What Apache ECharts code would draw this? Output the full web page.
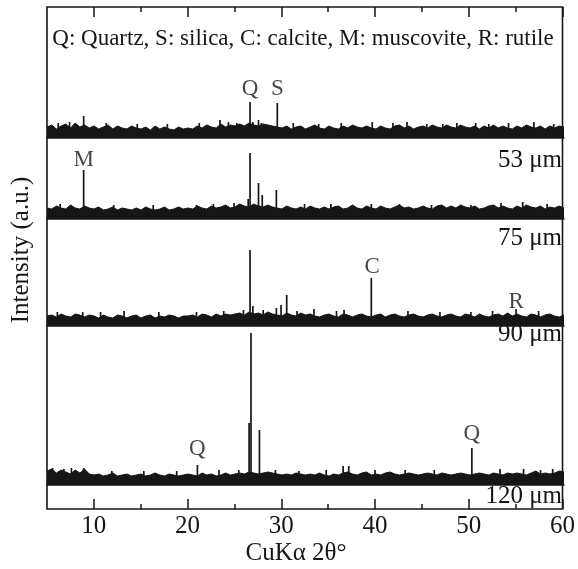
<!DOCTYPE html>
<html>
<head>
<meta charset="utf-8">
<script src="https://cdn.jsdelivr.net/npm/echarts@6/dist/echarts.min.js"></script>
<style>
    html, body { margin: 0; padding: 0; background: #fff; }
    #chart { width: 578px; height: 569px; }
</style>
</head>
<body>
<div id="chart"></div>
<script>
// XRD patterns, CuKa 2theta from 5 to 60 deg, intensity in a.u.
const angles = []
for (let a = 5; a <= 60; a += 0.5) angles.push(a)

const sampleNames = ['53 μm', '75 μm', '90 μm', '120 μm']
const majorTicks = [10, 20, 30, 40, 50, 60]
const minorTicks = [15, 25, 35, 45, 55]

// background noise, one value per 0.5 deg
const bg53 = [
    11, 13, 9, 12, 14, 10, 15, 11, 13, 10,
    12, 9, 11, 13, 9, 12, 10, 9, 12, 10,
    9, 11, 8, 12, 9, 11, 9, 8, 11, 9,
    10, 9, 12, 10, 13, 11, 10, 14, 11, 13,
    12, 14, 12, 15, 13, 12, 14, 13, 12, 11,
    10, 12, 9, 11, 12, 9, 11, 13, 10, 9,
    12, 10, 9, 12, 10, 13, 11, 10, 12, 10,
    9, 12, 10, 9, 12, 13, 10, 12, 9, 11,
    12, 10, 13, 11, 10, 13, 11, 10, 13, 11,
    10, 12, 9, 12, 10, 13, 10, 12, 10, 9,
    12, 10, 13, 11, 10, 12, 9, 12, 10, 12,
    11
]
const bg75 = [
    11, 10, 13, 11, 10, 14, 11, 10, 13, 11,
    10, 12, 9, 10, 12, 9, 11, 10, 9, 11,
    9, 12, 10, 9, 10, 12, 9, 10, 12, 10,
    11, 10, 13, 11, 10, 13, 11, 12, 14, 11,
    12, 15, 13, 12, 15, 13, 12, 14, 12, 11,
    10, 13, 11, 10, 12, 10, 13, 11, 10, 12,
    10, 12, 13, 10, 11, 14, 11, 10, 13, 11,
    10, 13, 11, 10, 12, 14, 11, 12, 10, 11,
    13, 11, 10, 13, 14, 11, 13, 11, 14, 12,
    11, 13, 10, 11, 13, 14, 11, 13, 11, 10,
    13, 11, 14, 12, 11, 13, 10, 12, 11, 13,
    11
]
const bg90 = [
    10, 11, 9, 12, 10, 9, 12, 11, 9, 11,
    10, 8, 11, 9, 8, 11, 10, 8, 10, 11,
    8, 10, 11, 8, 10, 9, 11, 10, 8, 10,
    10, 11, 9, 12, 11, 9, 12, 10, 12, 11,
    12, 13, 11, 14, 12, 13, 11, 14, 12, 11,
    10, 13, 11, 10, 13, 11, 12, 10, 9, 11,
    12, 10, 9, 12, 11, 9, 11, 12, 10, 9,
    11, 12, 9, 11, 12, 10, 9, 11, 12, 10,
    9, 11, 12, 10, 9, 11, 12, 10, 9, 12,
    11, 9, 12, 10, 9, 11, 12, 10, 13, 10,
    12, 10, 9, 12, 11, 9, 11, 12, 10, 9,
    11
]
const bg120 = [
    14, 16, 12, 15, 13, 11, 15, 12, 16, 11,
    10, 11, 9, 10, 12, 9, 10, 11, 9, 10,
    11, 9, 10, 12, 10, 9, 11, 10, 9, 10,
    11, 10, 9, 12, 10, 11, 9, 10, 12, 10,
    11, 12, 11, 13, 12, 11, 12, 13, 12, 11,
    10, 11, 10, 12, 11, 10, 11, 10, 12, 10,
    9, 11, 10, 12, 13, 11, 10, 12, 13, 10,
    11, 10, 12, 13, 11, 10, 11, 12, 11, 10,
    11, 12, 11, 10, 12, 11, 10, 11, 12, 11,
    10, 11, 12, 11, 10, 12, 11, 10, 12, 11,
    12, 11, 10, 12, 14, 11, 12, 11, 12, 14,
    13
]

// sharp reflections and noise spikes [2theta, intensity]
const peaks53 = [
    [6.2, 15], [7.4, 16], [8.9, 22], [11.3, 15], [14.6, 14], [17.8, 14], [21.2, 15],
    [23.4, 18], [24.3, 16], [25.2, 15], [26.6, 36], [26.9, 16], [27.5, 18], [27.8, 15],
    [29.5, 35], [31.2, 15], [33.9, 14], [36.3, 15], [39.6, 16], [41.8, 15], [43.3, 16],
    [45.4, 14], [47.1, 14], [48.6, 15], [50.6, 15], [52.0, 14], [54.1, 15], [56.8, 16], [58.9, 14]
]
const peaks75 = [
    [6.4, 15], [8.9, 49], [12.1, 14], [16.3, 14], [20.9, 14], [22.7, 15], [24.9, 16],
    [26.4, 20], [26.6, 66], [27.5, 36], [27.9, 24], [29.4, 29], [32.4, 15], [35.2, 15],
    [39.5, 15], [42.5, 15], [45.9, 14], [50.1, 14], [53.3, 16], [55.6, 17], [58.2, 15]
]
const peaks90 = [
    [6.1, 14], [8.8, 14], [10.7, 14], [13.2, 15], [16.9, 14], [20.9, 14], [23.8, 15],
    [25.9, 16], [26.6, 76], [26.9, 20], [28.0, 16], [29.4, 18], [29.9, 21], [30.5, 31],
    [31.6, 15], [33.4, 17], [35.8, 15], [36.6, 16], [39.5, 48], [43.4, 15], [46.8, 14],
    [50.1, 14], [52.4, 15], [54.9, 17], [57.3, 15]
]
const peaks120 = [
    [5.6, 17], [6.8, 16], [7.6, 17], [8.9, 17], [11.9, 14], [15.3, 14], [18.8, 14],
    [21.0, 20], [23.3, 15], [25.4, 15], [26.5, 62], [26.7, 152], [27.6, 55], [29.3, 15],
    [31.8, 14], [34.7, 15], [36.5, 19], [37.1, 19], [39.9, 15], [43.1, 15], [46.2, 15],
    [50.2, 37], [53.2, 16], [55.7, 16], [57.5, 15], [58.8, 16]
]

// phase labels [name, 2theta, height in a.u.]
const marks53 = [['Q', 26.6, 49], ['S', 29.5, 49]]
const marks75 = [['M', 8.9, 59]]
const marks90 = [['C', 39.6, 59], ['R', 54.9, 24]]
const marks120 = [['Q', 21.0, 36], ['Q', 50.2, 51]]

const FONT = 'Liberation Serif'
const INK = '#161616'

const traces = [
    { bg: bg53, peaks: peaks53, marks: marks53 },
    { bg: bg75, peaks: peaks75, marks: marks75 },
    { bg: bg90, peaks: peaks90, marks: marks90 },
    { bg: bg120, peaks: peaks120, marks: marks120 }
]
const panelBottom = [138, 219, 326, 485]
const panelHeight = [100, 100, 100, 160]
const panelLabelY = [160, 238, 334, 496]

function getOption() {
    let grids = [], xAxes = [], yAxes = [], series = []

    // outer frame with the 2theta scale
    grids.push({ left: 47, right: 14, top: 7, bottom: 60, show: true, borderColor: INK, borderWidth: 1.6 })
    const frameAxis = (position, ticks, len, labels) => ({
        type: 'value',
        gridIndex: 0,
        position: position,
        min: 5,
        max: 60,
        axisLine: { show: false },
        splitLine: { show: false },
        axisTick: {
            show: true,
            inside: true,
            length: len,
            customValues: ticks,
            lineStyle: { color: INK, width: 1.5 }
        },
        axisLabel: {
            show: labels,
            customValues: majorTicks,
            margin: 5,
            color: INK,
            fontFamily: FONT,
            fontSize: 25
        }
    })
    xAxes.push(frameAxis('bottom', majorTicks, 10, true))
    xAxes.push(frameAxis('bottom', minorTicks, 5, false))
    xAxes.push(frameAxis('top', majorTicks, 10, false))
    xAxes.push(frameAxis('top', minorTicks, 5, false))
    yAxes.push({ type: 'value', gridIndex: 0, min: 0, max: 1, show: false })

    traces.forEach((t, k) => {
        const g = k + 1
        grids.push({ left: 47, right: 14, top: panelBottom[k] - panelHeight[k], height: panelHeight[k] })
        xAxes.push({
            type: 'value',
            gridIndex: g,
            min: 5,
            max: 60,
            axisLine: { show: true, onZero: false, lineStyle: { color: INK, width: 1.5 } },
            axisTick: { show: false },
            axisLabel: { show: false },
            splitLine: { show: false }
        })
        yAxes.push({ type: 'value', gridIndex: g, min: 0, max: panelHeight[k], show: false })
        const axisIdx = 4 + k
        series.push({
            type: 'line',
            xAxisIndex: axisIdx,
            yAxisIndex: g,
            showSymbol: false,
            silent: true,
            lineStyle: { color: INK, width: 1 },
            areaStyle: { color: INK, opacity: 1 },
            data: t.bg.map((v, i) => [angles[i], v])
        })
        series.push({
            type: 'bar',
            xAxisIndex: axisIdx,
            yAxisIndex: g,
            barWidth: 1.7,
            silent: true,
            itemStyle: { color: INK },
            data: t.peaks
        })
        series.push({
            type: 'scatter',
            xAxisIndex: axisIdx,
            yAxisIndex: g,
            symbolSize: 0,
            silent: true,
            label: {
                show: true,
                position: 'inside',
                formatter: '{b}',
                color: INK,
                fontFamily: FONT,
                fontSize: 23
            },
            data: t.marks.map(m => ({ name: m[0], value: [m[1], m[2]] }))
        })
    })

    const textStyle = (extra) => Object.assign({ fill: INK, fontFamily: FONT }, extra)
    let graphic = [
        {
            type: 'text', x: 303, y: 39,
            style: textStyle({
                text: 'Q: Quartz, S: silica, C: calcite, M: muscovite, R: rutile',
                fontSize: 23, align: 'center', verticalAlign: 'middle'
            })
        },
        {
            type: 'text', x: 21, y: 250, rotation: Math.PI / 2,
            style: textStyle({ text: 'Intensity (a.u.)', fontSize: 25, align: 'center', verticalAlign: 'middle' })
        },
        {
            type: 'text', x: 296, y: 553,
            style: textStyle({ text: 'CuKα 2θ°', fontSize: 25, align: 'center', verticalAlign: 'middle' })
        }
    ]
    sampleNames.forEach((name, k) => {
        graphic.push({
            type: 'text', x: 562, y: panelLabelY[k],
            style: textStyle({ text: name, fontSize: 25, align: 'right', verticalAlign: 'middle' })
        })
    })

    return {
        animation: false,
        backgroundColor: '#fff',
        grid: grids,
        xAxis: xAxes,
        yAxis: yAxes,
        series: series,
        graphic: graphic
    }
}

const chart = echarts.init(document.getElementById('chart'))
chart.setOption(getOption())
</script>
</body>
</html>
